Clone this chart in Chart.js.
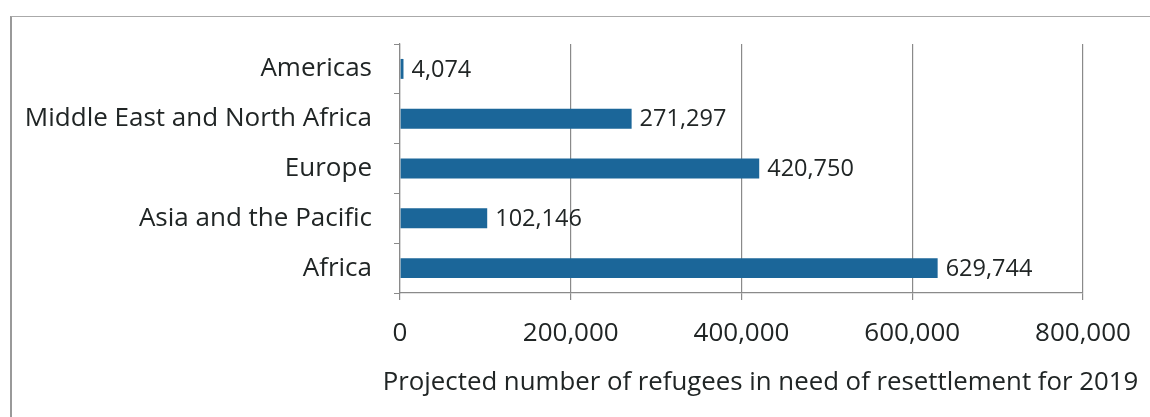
<!DOCTYPE html>
<html>
<head>
<meta charset="utf-8">
<script src="https://cdn.jsdelivr.net/npm/chart.js@4"></script>
<style>
    html, body { margin: 0; padding: 0; background: #fff; }
    #wrap { position: relative; width: 1150px; height: 417px; }
    #frame {
        position: absolute; left: 10px; top: 16px; right: -2px; bottom: -2px;
        border-top: 1px solid #aaa; border-left: 2px solid #999;
        pointer-events: none;
    }
    canvas { position: absolute; left: 0; top: 0; }
</style>
</head>
<body>
<div id="wrap">
    <canvas id="refugeeChart" width="1150" height="417"></canvas>
    <div id="frame"></div>
</div>
<script>
// Data
const regions = ['Americas', 'Middle East and North Africa', 'Europe', 'Asia and the Pacific', 'Africa'];
const refugees = [4074, 271297, 420750, 102146, 629744];
const xTicks = [0, 200000, 400000, 600000, 800000];
const axisTitle = 'Projected number of refugees in need of resettlement for 2019';

const barColor = '#1b6699';
const textColor = '#202525';
const fontFamily = '"Open Sans", sans-serif';

// Value labels to the right of each bar, plus the x axis title
// (drawn here so it can run wider than the plot area, as in the original)
const valueLabels = {
    id: 'valueLabels',
    afterDatasetsDraw(chart) {
        const ctx = chart.ctx;
        const meta = chart.getDatasetMeta(0);
        const area = chart.chartArea;
        ctx.save();
        ctx.font = '23.5px ' + fontFamily;
        ctx.fillStyle = textColor;
        ctx.textBaseline = 'middle';
        ctx.textAlign = 'left';
        meta.data.forEach((bar, i) => {
            ctx.fillText(refugees[i].toLocaleString('en-US'), bar.x + 8, bar.y + 1);
        });

        ctx.font = '25.8px ' + fontFamily;
        ctx.textAlign = 'center';
        ctx.textBaseline = 'alphabetic';
        ctx.fillText(axisTitle, (area.left + area.right) / 2 + 19, area.bottom + 97);
        ctx.restore();
    }
};

const ctx = document.getElementById('refugeeChart').getContext('2d');
const refugeeChart = new Chart(ctx, {
    type: 'bar',
    data: {
        labels: regions,
        datasets: [{
            data: refugees,
            backgroundColor: barColor,
            barPercentage: 0.8,
            categoryPercentage: 0.5
        }]
    },
    options: {
        indexAxis: 'y',
        responsive: false,
        animation: false,
        layout: {
            padding: { top: 44, right: 67, bottom: 20, left: 0 }
        },
        plugins: {
            legend: { display: false },
            tooltip: { enabled: false }
        },
        scales: {
            x: {
                min: 0,
                max: 800000,
                afterBuildTicks: scale => {
                    scale.ticks = xTicks.map(v => ({ value: v }));
                },
                afterFit: scale => { scale.height = 104; },
                grid: {
                    color: '#8a8a8a',
                    lineWidth: 1.2,
                    tickLength: 7,
                    drawTicks: true
                },
                border: { color: '#8a8a8a', width: 1.2 },
                ticks: {
                    color: textColor,
                    font: { family: fontFamily, size: 26 },
                    padding: 18,
                    maxRotation: 0,
                    callback: v => v.toLocaleString('en-US')
                }
            },
            y: {
                afterFit: scale => { scale.width = 400; },
                grid: {
                    offset: true,
                    drawOnChartArea: false,
                    drawTicks: true,
                    tickLength: 6,
                    color: '#8a8a8a'
                },
                border: { color: '#8a8a8a', width: 1.2 },
                ticks: {
                    color: textColor,
                    font: { family: fontFamily, size: 26 },
                    padding: 22
                }
            }
        }
    },
    plugins: [valueLabels]
});
</script>
</body>
</html>
